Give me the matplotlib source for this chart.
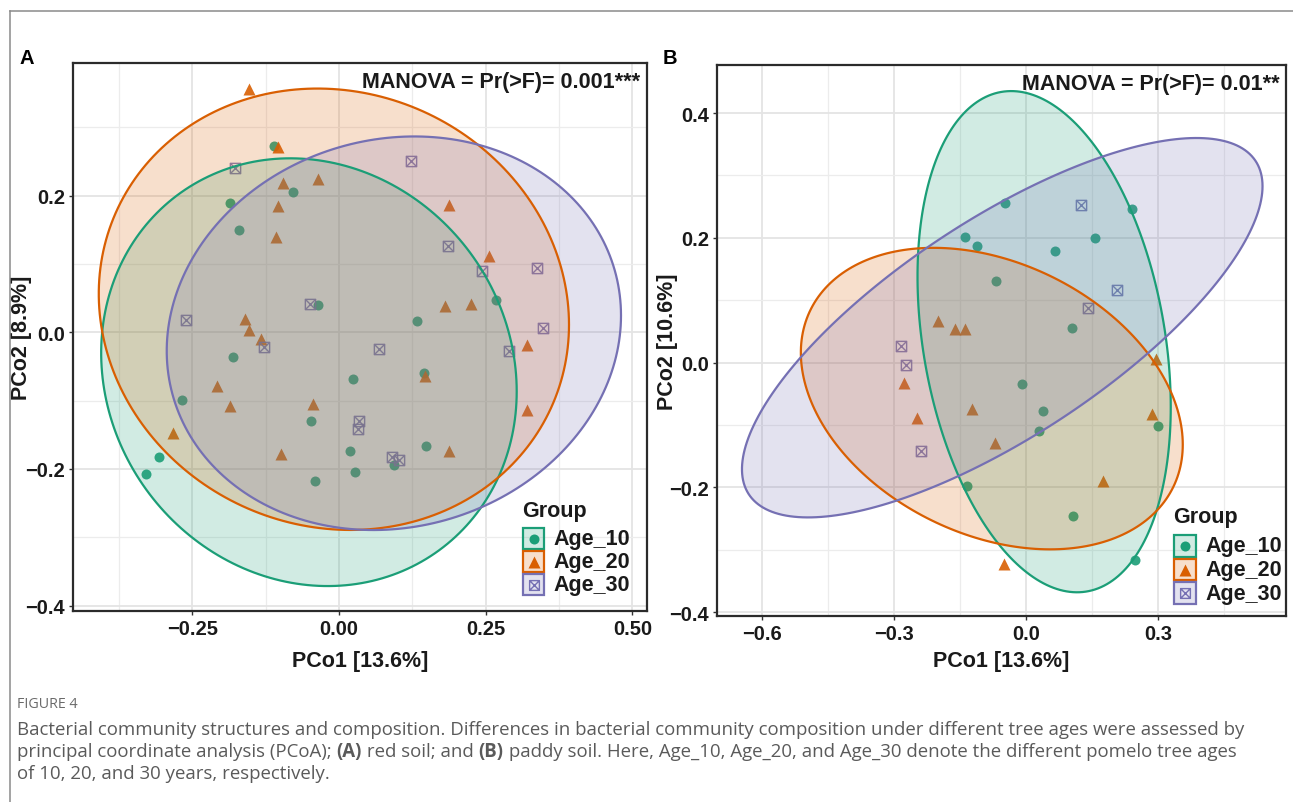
import numpy as np
import matplotlib
matplotlib.use("Agg")
import matplotlib.pyplot as plt
from matplotlib.path import Path
from matplotlib.patches import Polygon, Rectangle
from matplotlib.lines import Line2D

plt.rcParams['font.family'] = ['Liberation Sans', 'DejaVu Sans']

# ---------------- data ----------------
groups = ['Age_10', 'Age_20', 'Age_30']
colors = ['#1B9E77', '#D95F02', '#7570B3']

# Panel A (red soil)
a10_x = [-0.111, -0.078, -0.186, -0.170, -0.036, -0.181, -0.268, -0.048, -0.307, -0.329,
         -0.041, 0.024, 0.019, 0.027, 0.145, 0.148, 0.094, 0.133, 0.268]
a10_y = [0.272, 0.205, 0.189, 0.149, 0.040, -0.037, -0.099, -0.130, -0.183, -0.208,
         -0.218, -0.069, -0.174, -0.205, -0.059, -0.167, -0.195, 0.016, 0.047]
a20_x = [-0.153, -0.104, -0.095, -0.036, -0.104, -0.107, -0.160, -0.153, -0.133, -0.208,
         -0.186, -0.044, -0.283, -0.099, 0.187, 0.256, 0.181, 0.225, 0.320, 0.147, 0.320, 0.187]
a20_y = [0.356, 0.271, 0.219, 0.224, 0.184, 0.140, 0.019, 0.003, -0.010, -0.079,
         -0.108, -0.105, -0.148, -0.178, 0.186, 0.111, 0.038, 0.041, -0.019, -0.064, -0.114, -0.174]
a30_x = [-0.177, -0.261, -0.049, -0.128, 0.123, 0.186, 0.244, 0.337, 0.348, 0.290,
         0.068, 0.034, 0.032, 0.090, 0.102]
a30_y = [0.241, 0.018, 0.041, -0.022, 0.250, 0.126, 0.089, 0.094, 0.006, -0.028,
         -0.025, -0.130, -0.142, -0.183, -0.187]

# Panel B (paddy soil)
b10_x = [-0.140, -0.111, -0.048, 0.240, 0.156, 0.066, -0.068, 0.104, -0.009, 0.038,
         0.029, 0.299, -0.134, 0.106, 0.247]
b10_y = [0.202, 0.187, 0.256, 0.246, 0.200, 0.179, 0.131, 0.056, -0.034, -0.078,
         -0.109, -0.102, -0.198, -0.246, -0.317]
b20_x = [-0.201, -0.161, -0.138, -0.278, -0.247, -0.122, -0.070, 0.294, 0.285, 0.174, -0.050]
b20_y = [0.066, 0.054, 0.054, -0.032, -0.088, -0.075, -0.128, 0.006, -0.083, -0.189, -0.323]
b30_x = [-0.285, -0.272, -0.238, 0.125, 0.206, 0.140]
b30_y = [0.026, -0.003, -0.142, 0.253, 0.117, 0.088]

# Confidence ellipses: centre x, centre y, half-width, half-height, correlation
ellA_cx = [-0.051, -0.0085, 0.0937]
ellA_cy = [-0.0585, 0.0336, -0.0015]
ellA_sx = [0.354, 0.4006, 0.387]
ellA_sy = [0.313, 0.323, 0.288]
ellA_rho = [-0.09, -0.07, 0.09]

ellB_cx = [0.0408, -0.078, -0.0543]
ellB_cy = [0.0336, -0.0576, 0.056]
ellB_sx = [0.2875, 0.4336, 0.591]
ellB_sy = [0.4016, 0.2416, 0.304]
ellB_rho = [-0.26, -0.305, 0.746]

A_xticks = [-0.25, 0.0, 0.25, 0.50]
A_xticklabels = ['\u22120.25', '0.00', '0.25', '0.50']
A_yticks = [-0.4, -0.2, 0.0, 0.2]
A_yticklabels = ['\u22120.4', '\u22120.2', '0.0', '0.2']
B_xticks = [-0.6, -0.3, 0.0, 0.3]
B_xticklabels = ['\u22120.6', '\u22120.3', '0.0', '0.3']
B_yticks = [-0.4, -0.2, 0.0, 0.2, 0.4]
B_yticklabels = ['\u22120.4', '\u22120.2', '0.0', '0.2', '0.4']

# ---------------- figure ----------------
W, H = 1293, 803
fig = plt.figure(figsize=(W / 100, H / 100), dpi=100)
fig.patch.set_facecolor('white')


def fx(px):
    return px / W


def fy(py):
    return 1 - py / H


# square-with-cross marker
sqx = Path([(-1, -1), (1, -1), (1, 1), (-1, 1), (-1, -1), (-1, -1), (1, 1), (-1, 1), (1, -1)],
           [Path.MOVETO, Path.LINETO, Path.LINETO, Path.LINETO, Path.CLOSEPOLY,
            Path.MOVETO, Path.LINETO, Path.MOVETO, Path.LINETO])
markers = ['o', '^', sqx]
msizes = [7.2, 8.8, 7.4]

TXT = '#1a1a1a'
FS = 15.5


def ellipse_xy(cx, cy, sx, sy, rho, n=240):
    cov = np.array([[sx * sx, rho * sx * sy], [rho * sx * sy, sy * sy]])
    L = np.linalg.cholesky(cov)
    t = np.linspace(0, 2 * np.pi, n)
    circ = np.vstack([np.cos(t), np.sin(t)])
    pts = L @ circ
    return np.column_stack([cx + pts[0], cy + pts[1]])


def setup_axes(rect, xlim, ylim, xt, xtl, yt, ytl, xminor, yminor):
    ax = fig.add_axes(rect)
    ax.set_xlim(*xlim)
    ax.set_ylim(*ylim)
    ax.set_xticks(xt)
    ax.set_xticklabels(xtl)
    ax.set_yticks(yt)
    ax.set_yticklabels(ytl)
    ax.set_xticks(xminor, minor=True)
    ax.set_yticks(yminor, minor=True)
    ax.grid(True, which='major', color='#e4e4e4', lw=1.3, zorder=0)
    ax.grid(True, which='minor', color='#ececec', lw=0.9, zorder=0)
    ax.set_axisbelow(True)
    ax.tick_params(which='minor', length=0)
    ax.tick_params(which='major', length=3.2, width=1.0, color='#333333', pad=2.5,
                   labelsize=14.5, labelcolor=TXT)
    for lab in ax.get_xticklabels() + ax.get_yticklabels():
        lab.set_fontweight('bold')
    for s in ax.spines.values():
        s.set_color('#2b2b2b')
        s.set_linewidth(1.6)
    return ax


def draw_panel(ax, xs, ys, ecx, ecy, esx, esy, erho):
    for i in range(3):
        if markers[i] is sqx:
            ax.plot(xs[i], ys[i], ls='none', marker=sqx, ms=msizes[i], mfc='none',
                    mec=colors[i], mew=1.0, alpha=0.9, zorder=2)
        else:
            ax.plot(xs[i], ys[i], ls='none', marker=markers[i], ms=msizes[i],
                    mfc=colors[i], mec='none', alpha=0.9, zorder=2)
    for i in range(3):
        xy = ellipse_xy(ecx[i], ecy[i], esx[i], esy[i], erho[i])
        ax.add_patch(Polygon(xy, closed=True, facecolor=colors[i], alpha=0.2,
                             edgecolor='none', zorder=3))
        ax.add_patch(Polygon(xy, closed=True, facecolor='none', edgecolor=colors[i],
                             lw=1.6, zorder=4))


def draw_legend(x0, ytitle, rows_top, box, txt_x):
    fig.text(fx(x0), fy(ytitle), 'Group', ha='left', va='center', fontsize=FS,
             fontweight='bold', color=TXT)
    for i, g in enumerate(groups):
        top = rows_top + i * box
        fig.add_artist(Rectangle((fx(x0), fy(top + box)), box / W, box / H,
                                 transform=fig.transFigure, facecolor=colors[i],
                                 alpha=0.2, edgecolor='none'))
        fig.add_artist(Rectangle((fx(x0 + 1), fy(top + box - 1)), (box - 2) / W, (box - 2) / H,
                                 transform=fig.transFigure, facecolor='none',
                                 edgecolor=colors[i], lw=1.6))
        cxp, cyp = x0 + box / 2, top + box / 2
        if markers[i] is sqx:
            m = Line2D([fx(cxp)], [fy(cyp)], transform=fig.transFigure, ls='none',
                       marker=sqx, ms=msizes[i] * 0.95, mfc='none', mec=colors[i], mew=1.0)
        else:
            m = Line2D([fx(cxp)], [fy(cyp)], transform=fig.transFigure, ls='none',
                       marker=markers[i], ms=msizes[i], mfc=colors[i], mec='none')
        fig.add_artist(m)
        fig.text(fx(txt_x), fy(cyp), g, ha='left', va='center', fontsize=FS,
                 fontweight='bold', color=TXT)


# ---- Panel A ----
axA = setup_axes([fx(73), fy(612), (647 - 73) / W, (612 - 64) / H],
                 (-0.453, 0.525), (-0.408, 0.394),
                 A_xticks, A_xticklabels, A_yticks, A_yticklabels,
                 [-0.375, -0.125, 0.125, 0.375], [-0.3, -0.1, 0.1, 0.3])
draw_panel(axA, [a10_x, a20_x, a30_x], [a10_y, a20_y, a30_y],
           ellA_cx, ellA_cy, ellA_sx, ellA_sy, ellA_rho)
axA.text(0.988, 0.985, 'MANOVA = Pr(>F)= 0.001***', transform=axA.transAxes,
         ha='right', va='top', fontsize=FS, fontweight='bold', color=TXT)
axA.set_xlabel('PCo1 [13.6%]', fontsize=FS, fontweight='bold', color=TXT)
axA.set_ylabel('PCo2 [8.9%]', fontsize=FS, fontweight='bold', color=TXT)
axA.xaxis.set_label_coords(0.5, (612 - 662) / 548)
axA.xaxis.label.set_verticalalignment('center')
axA.yaxis.set_label_coords((22 - 73) / 574, 0.5)
axA.yaxis.label.set_verticalalignment('center')

# ---- Panel B ----
axB = setup_axes([fx(717), fy(617), (1286 - 717) / W, (617 - 66) / H],
                 (-0.702, 0.59), (-0.406, 0.477),
                 B_xticks, B_xticklabels, B_yticks, B_yticklabels,
                 [-0.45, -0.15, 0.15, 0.45], [-0.3, -0.1, 0.1, 0.3])
draw_panel(axB, [b10_x, b20_x, b30_x], [b10_y, b20_y, b30_y],
           ellB_cx, ellB_cy, ellB_sx, ellB_sy, ellB_rho)
axB.text(0.988, 0.985, 'MANOVA = Pr(>F)= 0.01**', transform=axB.transAxes,
         ha='right', va='top', fontsize=FS, fontweight='bold', color=TXT)
axB.set_xlabel('PCo1 [13.6%]', fontsize=FS, fontweight='bold', color=TXT)
axB.set_ylabel('PCo2 [10.6%]', fontsize=FS, fontweight='bold', color=TXT)
axB.xaxis.set_label_coords(0.5, (617 - 662) / 551)
axB.xaxis.label.set_verticalalignment('center')
axB.yaxis.set_label_coords((668 - 717) / 569, 0.5)
axB.yaxis.label.set_verticalalignment('center')

# legends
draw_legend(522, 512, 528, 23, 553)
draw_legend(1173, 517, 535, 23.7, 1205)

# panel letters
fig.text(fx(20), fy(59), 'A', ha='left', va='center', fontsize=14.5, fontweight='bold', color='black')
fig.text(fx(663), fy(59), 'B', ha='left', va='center', fontsize=14.5, fontweight='bold', color='black')

# page frame lines
fig.add_artist(Line2D([fx(10), fx(1293)], [fy(12), fy(12)], transform=fig.transFigure,
                      color='#8a8a8a', lw=1.1))
fig.add_artist(Line2D([fx(10), fx(10)], [fy(12), fy(803)], transform=fig.transFigure,
                      color='#8a8a8a', lw=1.1))

# caption
CAP = '#5a5a5a'
cap_font = ['Open Sans', 'DejaVu Sans']
fig.text(fx(17), fy(705), 'FIGURE 4', ha='left', va='center', fontsize=10.3,
         family=cap_font, color='#6a6a6a')

cap_lines = [
    [('Bacterial community structures and composition. Differences in bacterial community '
      'composition under different tree ages were assessed by', 'normal')],
    [('principal coordinate analysis (PCoA); ', 'normal'), ('(A)', 'bold'),
     (' red soil; and ', 'normal'), ('(B)', 'bold'),
     (' paddy soil. Here, Age_10, Age_20, and Age_30 denote the different pomelo tree ages',
      'normal')],
    [('of 10, 20, and 30 years, respectively.', 'normal')],
]
cap_y = [730, 752, 774]
renderer = fig.canvas.get_renderer()
for segs, yy in zip(cap_lines, cap_y):
    xcur = 17.0
    for s, w in segs:
        t = fig.text(fx(xcur), fy(yy), s, ha='left', va='center', fontsize=13.4,
                     family=cap_font, fontweight=w, color=CAP)
        bb = t.get_window_extent(renderer=renderer)
        xcur += bb.width

fig.savefig('out.png', dpi=100, facecolor='white')
